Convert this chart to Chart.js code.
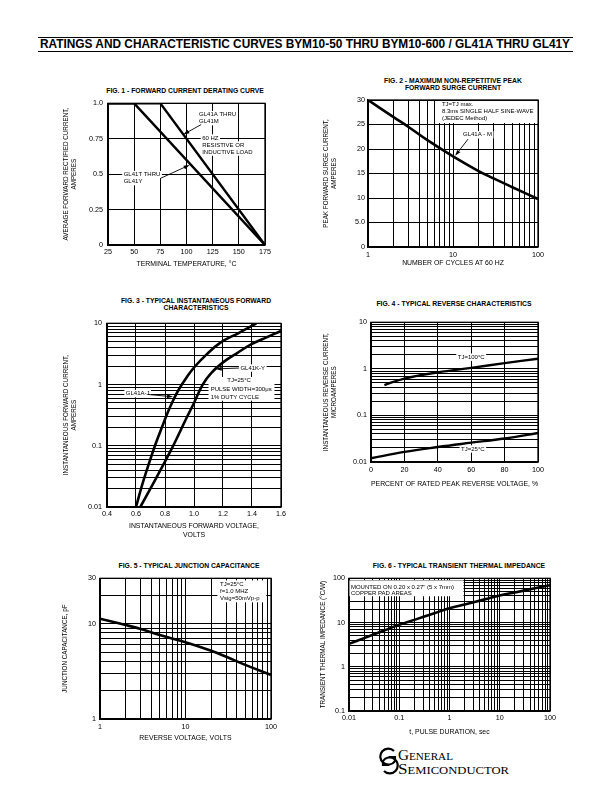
<!DOCTYPE html>
<html>
<head>
<meta charset="utf-8">
<script src="https://cdn.jsdelivr.net/npm/chart.js@4.4.0/dist/chart.umd.min.js"></script>
<style>
    body { margin: 0; width: 612px; height: 792px; background: #fff; position: relative; overflow: hidden; font-family: "Liberation Sans", Arial, sans-serif; color: #000; }
    .holder { position: absolute; }
    .ttl { position: absolute; font-weight: bold; font-size: 6.8px; line-height: 7px; text-align: center; white-space: nowrap; transform: translateX(-50%); }
    .rule { position: absolute; left: 38px; width: 535px; background: #000; }
    #header { position: absolute; left: 40px; top: 38px; font-weight: bold; font-size: 12px; line-height: 13px; white-space: nowrap; transform-origin: 0 0; }
    #logo { position: absolute; left: 378px; top: 746px; }
    .logotext { position: absolute; font-family: "Liberation Serif", "DejaVu Serif", serif; font-variant: small-caps; font-size: 15px; line-height: 15px; white-space: nowrap; transform-origin: 0 0; }
</style>
</head>
<body>
<div class="rule" style="top:37px;height:1px"></div>
<div id="header">RATINGS AND CHARACTERISTIC CURVES BYM10-50 THRU BYM10-600 / GL41A THRU GL41Y</div>
<div class="rule" style="top:51px;height:1.3px"></div>

<div class="ttl" style="left:185px;top:86.5px">FIG. 1 - FORWARD CURRENT DERATING CURVE</div>
<div class="ttl" style="left:453px;top:76.5px">FIG. 2 - MAXIMUM NON-REPETITIVE PEAK<br>FORWARD SURGE CURRENT</div>
<div class="ttl" style="left:196px;top:296.5px">FIG. 3 - TYPICAL INSTANTANEOUS FORWARD<br>CHARACTERISTICS</div>
<div class="ttl" style="left:454px;top:299.5px">FIG. 4 - TYPICAL REVERSE CHARACTERISTICS</div>
<div class="ttl" style="left:189px;top:561.5px">FIG. 5 - TYPICAL JUNCTION CAPACITANCE</div>
<div class="ttl" style="left:459px;top:561.5px">FIG. 6 - TYPICAL TRANSIENT THERMAL IMPEDANCE</div>

<div class="holder"><canvas id="fig1"></canvas></div>
<div class="holder"><canvas id="fig2"></canvas></div>
<div class="holder"><canvas id="fig3"></canvas></div>
<div class="holder"><canvas id="fig4"></canvas></div>
<div class="holder"><canvas id="fig5"></canvas></div>
<div class="holder"><canvas id="fig6"></canvas></div>

<svg id="logo" width="22" height="30" viewBox="0 0 22 30">
    <path d="M16 5 A8 8 0 1 0 17 15 L17 11 L11 11" fill="none" stroke="#000" stroke-width="2.2"/>
    <path d="M6 25 A8 8 0 1 0 5 15 L5 19 L11 19" fill="none" stroke="#000" stroke-width="2.2"/>
</svg>
<div class="logotext" id="logo1" style="left:398px;top:748px">General</div>
<div class="logotext" id="logo2" style="left:398px;top:762px">Semiconductor</div>

<script>
Chart.defaults.font.family = '"Liberation Sans", Arial, sans-serif'
Chart.defaults.font.size = 7
Chart.defaults.color = '#000'
Chart.defaults.animation = false
Chart.defaults.events = []
Chart.defaults.plugins.legend.display = false
Chart.defaults.plugins.tooltip.enabled = false

// ##### Data #####

// fig 1 - derating
const fig1TempA = [25, 75, 175]
const fig1CurrentA = [1.0, 1.0, 0]
const fig1TempT = [25, 50, 175]
const fig1CurrentT = [1.0, 1.0, 0]
const fig1XTicks = [25, 50, 75, 100, 125, 150, 175]
const fig1XLabels = ['25', '50', '75', '100', '125', '150', '175']
const fig1YTicks = [0, 0.25, 0.5, 0.75, 1.0]
const fig1YLabels = ['0', '0.25', '0.5', '0.75', '1.0']

// fig 2 - surge current
const fig2Cycles = [1, 2, 3, 5, 10, 20, 30, 50, 100]
const fig2Current = [30, 26.5, 24.5, 21.8, 18.5, 15.5, 14, 12.2, 9.8]
const fig2XTicks = [1, 2, 3, 4, 5, 6, 7, 8, 9, 10, 20, 30, 40, 50, 60, 70, 80, 90, 100]
const fig2XShown = [1, 10, 100]
const fig2XLabels = ['1', '10', '100']
const fig2YTicks = [0, 5, 10, 15, 20, 25, 30]
const fig2YLabels = ['0', '5.0', '10', '15', '20', '25', '30']

// fig 3 - forward characteristics
const fig3VoltsAJ = [0.6, 0.645, 0.69, 0.735, 0.78, 0.82, 0.86, 0.9, 0.95, 1.0, 1.08, 1.18, 1.31, 1.43]
const fig3AmpsAJ = [0.01, 0.024, 0.052, 0.107, 0.204, 0.355, 0.575, 0.87, 1.32, 1.9, 3.0, 4.8, 7.0, 10]
const fig3VoltsKY = [0.63, 0.74, 0.85, 0.95, 1.0, 1.06, 1.12, 1.2, 1.3, 1.4, 1.5, 1.6]
const fig3AmpsKY = [0.01, 0.03, 0.093, 0.29, 0.5, 1.0, 1.55, 2.3, 3.3, 4.6, 5.9, 7.5]
const fig3XTicks = [0.4, 0.6, 0.8, 1.0, 1.2, 1.4, 1.6]
const fig3XLabels = ['0.4', '0.6', '0.8', '1.0', '1.2', '1.4', '1.6']
const decadeTicks = [0.01, 0.02, 0.03, 0.04, 0.05, 0.06, 0.07, 0.08, 0.09, 0.1, 0.2, 0.3, 0.4, 0.5, 0.6, 0.7, 0.8, 0.9, 1, 2, 3, 4, 5, 6, 7, 8, 9, 10, 20, 30, 40, 50, 60, 70, 80, 90, 100]
const fig3YTicks = decadeTicks.filter((v) => v <= 10)
const fig3YShown = [0.01, 0.1, 1, 10]
const fig3YLabels = ['0.01', '0.1', '1', '10']

// fig 4 - reverse characteristics
const fig4Percent100 = [8, 20, 40, 60, 80, 100]
const fig4Current100 = [0.45, 0.62, 0.84, 1.05, 1.33, 1.65]
const fig4Percent25 = [0, 20, 40, 60, 80, 100]
const fig4Current25 = [0.012, 0.0165, 0.021, 0.026, 0.032, 0.042]
const fig4XTicks = [0, 20, 40, 60, 80, 100]
const fig4XLabels = ['0', '20', '40', '60', '80', '100']

// fig 5 - junction capacitance
const fig5Volts = [1, 2, 3, 5, 10, 20, 30, 50, 100]
const fig5Cap = [11.3, 9.7, 8.8, 7.6, 6.4, 5.2, 4.5, 3.7, 2.9]
const fig5XTicks = [1, 2, 3, 4, 5, 6, 7, 8, 9, 10, 20, 30, 40, 50, 60, 70, 80, 90, 100]
const fig5XShown = [1, 10, 100]
const fig5XLabels = ['1', '10', '100']
const fig5YTicks = [1, 2, 3, 4, 5, 6, 7, 8, 9, 10, 20, 30]
const fig5YShown = [1, 10, 30]
const fig5YLabels = ['1', '10', '30']

// fig 6 - transient thermal impedance
const fig6Time = [0.01, 0.02, 0.05, 0.1, 0.2, 0.5, 1, 2, 5, 10, 20, 50, 100]
const fig6Imped = [3.3, 4.45, 6.6, 8.9, 11.5, 16.2, 21, 25.7, 33.4, 41, 48, 59.4, 70]
const fig6XTicks = decadeTicks
const fig6XShown = [0.01, 0.1, 1, 10, 100]
const fig6XLabels = ['0.01', '0.1', '1', '10', '100']
const fig6YTicks = decadeTicks.filter((v) => v >= 0.1)
const fig6YShown = [0.1, 1, 10, 100]
const fig6YLabels = ['0.1', '1', '10', '100']

// ##### Helpers #####

const Y_TITLE_SIZE = 6.3
const X_TITLE_SIZE = 6.9
const TITLE_LH = 1.3
const TICK_SIZE = 7.2

function points(xs, ys) {
    return xs.map((x, i) => ({ x: x, y: ys[i] }))
}

function curve(xs, ys, width = 2.5, smooth = true) {
    return {
        data: points(xs, ys),
        borderColor: '#000',
        borderWidth: width,
        pointRadius: 0,
        fill: false,
        tension: smooth ? 0.4 : 0,
        borderCapStyle: 'butt',
    }
}

function makeAxis(o, titleSize) {
    return {
        type: o.type,
        min: o.min,
        max: o.max,
        afterBuildTicks: (scale) => {
            scale.ticks = o.ticks.map((v) => ({ value: v }))
        },
        ticks: {
            autoSkip: false,
            maxRotation: 0,
            minRotation: 0,
            padding: o.tickPad,
            font: { size: TICK_SIZE },
            callback: (v) => {
                const i = o.shown.indexOf(v)
                return i >= 0 ? o.labels[i] : ''
            },
        },
        grid: { color: '#000', lineWidth: 1, drawTicks: false },
        border: { color: '#000', width: 1.3 },
        title: {
            display: true,
            text: o.title,
            font: { size: titleSize, lineHeight: TITLE_LH },
            padding: o.titlePad,
        },
    }
}

const framePlugin = {
    id: 'frame',
    beforeDatasetsDraw(chart) {
        const { ctx, chartArea: a } = chart
        ctx.save()
        ctx.strokeStyle = '#000'
        ctx.lineWidth = 1.3
        ctx.strokeRect(a.left, a.top, a.right - a.left, a.bottom - a.top)
        ctx.restore()
    },
}

function notesPlugin(notes) {
    return {
        id: 'notes',
        beforeDatasetsDraw(chart) {
            const { ctx, scales } = chart
            const px = (v) => scales.x.getPixelForValue(v)
            const py = (v) => scales.y.getPixelForValue(v)
            ctx.save()
            ctx.fillStyle = '#fff'
            ;(notes.boxes || []).forEach((b) => {
                const x1 = px(b[0]), y1 = py(b[1]), x2 = px(b[2]), y2 = py(b[3])
                ctx.fillRect(x1, y1, x2 - x1, y2 - y1)
            })
            ctx.font = '6px "Liberation Sans", Arial, sans-serif'
            ctx.textBaseline = 'middle'
            const texts = notes.texts || []
            // white backing first, then the words
            texts.forEach((t) => {
                if (!t.bg) return
                const x0 = px(t.at[0]), y0 = py(t.at[1])
                t.lines.forEach((line, i) => {
                    const w = ctx.measureText(line).width
                    const lx = t.align === 'center' ? x0 - w / 2 : x0
                    ctx.fillStyle = '#fff'
                    ctx.fillRect(lx - 1.5, y0 + i * (t.gap || 7) - 3.7, w + 3, 7.4)
                })
            })
            texts.forEach((t) => {
                const x0 = px(t.at[0]), y0 = py(t.at[1])
                ctx.textAlign = t.align || 'left'
                ctx.fillStyle = '#000'
                t.lines.forEach((line, i) => ctx.fillText(line, x0, y0 + i * (t.gap || 7)))
            })
            ;(notes.arrows || []).forEach((a) => {
                const x1 = px(a[0]), y1 = py(a[1]), x2 = px(a[2]), y2 = py(a[3])
                const ang = Math.atan2(y2 - y1, x2 - x1)
                ctx.strokeStyle = '#000'
                ctx.lineWidth = 0.9
                ctx.beginPath()
                ctx.moveTo(x1, y1)
                ctx.lineTo(x2 - 4 * Math.cos(ang), y2 - 4 * Math.sin(ang))
                ctx.stroke()
                ctx.fillStyle = '#000'
                ctx.beginPath()
                ctx.moveTo(x2, y2)
                ctx.lineTo(x2 - 6 * Math.cos(ang) + 2 * Math.sin(ang), y2 - 6 * Math.sin(ang) - 2 * Math.cos(ang))
                ctx.lineTo(x2 - 6 * Math.cos(ang) - 2 * Math.sin(ang), y2 - 6 * Math.sin(ang) + 2 * Math.cos(ang))
                ctx.closePath()
                ctx.fill()
            })
            ctx.restore()
        },
    }
}

// frame = [left, top, right, bottom] of the canvas, plot = the same for the chart area
// place = where tick labels and axis titles sit on the page
function createChart(canvasId, frame, plot, place, xAxis, yAxis, datasets, notes) {
    const [bl, bt, br, bb] = frame
    const canvas = document.getElementById(canvasId)
    const holder = canvas.parentNode
    holder.style.left = bl + 'px'
    holder.style.top = bt + 'px'
    holder.style.width = br - bl + 'px'
    holder.style.height = bb - bt + 'px'

    const xlh = X_TITLE_SIZE * TITLE_LH
    const ylh = Y_TITLE_SIZE * TITLE_LH
    const tickLh = TICK_SIZE * 1.2
    const xLines = Array.isArray(xAxis.title) ? xAxis.title.length : 1
    xAxis.tickPad = place.xTickY - plot.bottom - tickLh / 2
    xAxis.titlePad = { top: 0, bottom: bb - place.xTitleY - xlh / 2 - xlh * (xLines - 1) }
    yAxis.tickPad = plot.left - place.yTickRight
    yAxis.titlePad = { top: place.yTitleX - bl - ylh / 2, bottom: 0 }

    const x = makeAxis(xAxis, X_TITLE_SIZE)
    x.afterFit = (scale) => {
        scale.height = bb - plot.bottom
    }
    const y = makeAxis(yAxis, Y_TITLE_SIZE)
    y.afterFit = (scale) => {
        scale.width = plot.left - bl
    }

    new Chart(canvas.getContext('2d'), {
        type: 'line',
        data: { datasets: datasets },
        options: {
            responsive: true,
            maintainAspectRatio: false,
            layout: { padding: { top: plot.top - bt, right: br - plot.right, left: 0, bottom: 0 } },
            scales: { x: x, y: y },
        },
        plugins: [framePlugin, notesPlugin(notes || {})],
    })
}

// ##### Charts #####

createChart(
    'fig1',
    [55, 94, 280, 270],
    { left: 108, top: 102, right: 265, bottom: 245 },
    { xTickY: 252, xTitleY: 264, yTickRight: 103, yTitleX: 66 },
    { type: 'linear', min: 25, max: 175, ticks: fig1XTicks, shown: fig1XTicks, labels: fig1XLabels, title: 'TERMINAL TEMPERATURE, °C' },
    { type: 'linear', min: 0, max: 1, ticks: fig1YTicks, shown: fig1YTicks, labels: fig1YLabels, title: ['AVERAGE FORWARD RECTIFIED CURRENT,', 'AMPERES'] },
    [curve(fig1TempA, fig1CurrentA, 2.4, false), curve(fig1TempT, fig1CurrentT, 2.4, false)],
    {
        texts: [
            { at: [112, 0.92], lines: ['GL41A THRU', 'GL41M'], bg: true },
            { at: [115, 0.755], lines: ['60 HZ', 'RESISTIVE OR', 'INDUCTIVE LOAD'], bg: true },
            { at: [40, 0.497], lines: ['GL41T THRU', 'GL41Y'], bg: true },
        ],
        arrows: [
            [114, 0.85, 97, 0.78],
            [75, 0.47, 103, 0.565],
        ],
    }
)

createChart(
    'fig2',
    [315, 92, 550, 270],
    { left: 368, top: 100, right: 538, bottom: 247 },
    { xTickY: 255, xTitleY: 263, yTickRight: 365, yTitleX: 326 },
    { type: 'logarithmic', min: 1, max: 100, ticks: fig2XTicks, shown: fig2XShown, labels: fig2XLabels, title: 'NUMBER OF CYCLES AT 60 HZ' },
    { type: 'linear', min: 0, max: 30, ticks: fig2YTicks, shown: fig2YTicks, labels: fig2YLabels, title: ['PEAK FORWARD SURGE CURRENT,', 'AMPERES'] },
    [curve(fig2Cycles, fig2Current, 2.6)],
    {
        boxes: [[6.6, 29.8, 98, 25.3]],
        texts: [
            { at: [7.4, 29.2], lines: ['TJ=TJ max.', '8.3ms SINGLE HALF SINE-WAVE', '(JEDEC Method)'], gap: 7.3 },
            { at: [13.1, 22.9], lines: ['GL41A - M'], bg: true },
        ],
        arrows: [[15, 22, 10.6, 18.6]],
    }
)

createChart(
    'fig3',
    [55, 314, 292, 542],
    { left: 107, top: 322, right: 281, bottom: 507 },
    { xTickY: 514, xTitleY: 526, yTickRight: 102, yTitleX: 66 },
    { type: 'linear', min: 0.4, max: 1.6, ticks: fig3XTicks, shown: fig3XTicks, labels: fig3XLabels, title: ['INSTANTANEOUS FORWARD VOLTAGE,', 'VOLTS'] },
    { type: 'logarithmic', min: 0.01, max: 10, ticks: fig3YTicks, shown: fig3YShown, labels: fig3YLabels, title: ['INSTANTANEOUS FORWARD CURRENT,', 'AMPERES'] },
    [curve(fig3VoltsAJ, fig3AmpsAJ, 2.6), curve(fig3VoltsKY, fig3AmpsKY, 2.6)],
    {
        boxes: [[1.1, 1.33, 1.555, 0.545]],
        texts: [
            { at: [1.32, 1.86], lines: ['GL41K-Y'], bg: true },
            { at: [1.23, 1.19], lines: ['TJ=25°C'] },
            { at: [1.115, 0.82], lines: ['PULSE WIDTH=300μs', '1% DUTY CYCLE'], gap: 8 },
            { at: [0.53, 0.71], lines: ['GL41A-J'], bg: true },
        ],
        arrows: [
            [1.31, 1.86, 1.15, 1.8],
            [0.68, 0.69, 0.855, 0.63],
        ],
    }
)

createChart(
    'fig4',
    [315, 314, 550, 490],
    { left: 371, top: 322, right: 538, bottom: 462 },
    { xTickY: 470, xTitleY: 484, yTickRight: 367, yTitleX: 326 },
    { type: 'linear', min: 0, max: 100, ticks: fig4XTicks, shown: fig4XTicks, labels: fig4XLabels, title: 'PERCENT OF RATED PEAK REVERSE VOLTAGE, %' },
    { type: 'logarithmic', min: 0.01, max: 10, ticks: fig3YTicks, shown: fig3YShown, labels: fig3YLabels, title: ['INSTANTANEOUS REVERSE CURRENT,', 'MICROAMPERES'] },
    [curve(fig4Percent100, fig4Current100, 2.4), curve(fig4Percent25, fig4Current25, 2.4)],
    {
        texts: [
            { at: [60, 1.78], lines: ['TJ=100°C'], align: 'center', bg: true },
            { at: [61, 0.019], lines: ['TJ=25°C'], align: 'center', bg: true },
        ],
    }
)

createChart(
    'fig5',
    [55, 570, 285, 744],
    { left: 100, top: 578, right: 271, bottom: 719 },
    { xTickY: 727, xTitleY: 738, yTickRight: 96, yTitleX: 65.5 },
    { type: 'logarithmic', min: 1, max: 100, ticks: fig5XTicks, shown: fig5XShown, labels: fig5XLabels, title: 'REVERSE VOLTAGE, VOLTS' },
    { type: 'logarithmic', min: 1, max: 30, ticks: fig5YTicks, shown: fig5YShown, labels: fig5YLabels, title: 'JUNCTION CAPACITANCE, pF' },
    [curve(fig5Volts, fig5Cap, 2.6)],
    {
        boxes: [[23.6, 28.5, 88, 16.8]],
        texts: [{ at: [25.3, 25.9], lines: ['TJ=25°C', 'f=1.0 MHZ', 'Vsig=50mVp-p'], gap: 7 }],
    }
)

createChart(
    'fig6',
    [312, 570, 562, 738],
    { left: 349, top: 578, right: 550, bottom: 711 },
    { xTickY: 718, xTitleY: 732, yTickRight: 345, yTitleX: 323 },
    { type: 'logarithmic', min: 0.01, max: 100, ticks: fig6XTicks, shown: fig6XShown, labels: fig6XLabels, title: 't, PULSE DURATION, sec' },
    { type: 'logarithmic', min: 0.1, max: 100, ticks: fig6YTicks, shown: fig6YShown, labels: fig6YLabels, title: 'TRANSIENT THERMAL IMPEDANCE (°C/W)' },
    [curve(fig6Time, fig6Imped, 2.6)],
    {
        boxes: [[0.0102, 90, 1.9, 39.3]],
        texts: [{ at: [0.0109, 62.7], lines: ['MOUNTED ON 0.20 x 0.27" (5 x 7mm)', 'COPPER PAD AREAS'], gap: 6.5 }],
    }
)

// stretch text blocks to the widths they take on the page
function fitWidth(id, width) {
    const el = document.getElementById(id)
    el.style.transform = `scaleX(${width / el.getBoundingClientRect().width})`
}
fitWidth('header', 530)
fitWidth('logo1', 55)
fitWidth('logo2', 111)
</script>
</body>
</html>
